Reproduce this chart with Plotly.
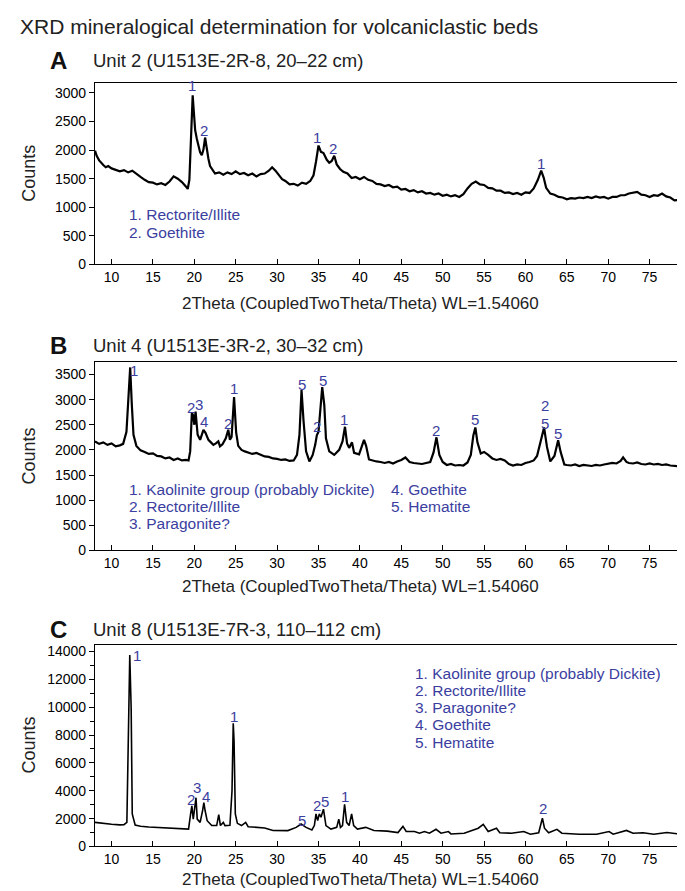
import plotly.graph_objects as go

W, H = 685, 891
FONT = "Liberation Sans, Arial, sans-serif"
BLUE = "#3b40a0"

# ---- data ----
a_x = [8.0, 8.2, 8.5, 8.8, 9.0, 9.3, 9.6, 10.0, 10.5, 11.0, 11.5, 12.0, 12.5, 13.0, 13.5, 14.0, 14.5, 15.0,
       15.5, 16.0, 16.5, 17.0, 17.5, 18.0, 18.5, 19.0, 19.2, 19.4, 19.6, 19.8, 19.95, 20.1, 20.3, 20.5, 20.7,
       20.9, 21.1, 21.3, 21.5, 21.7, 21.9, 22.2, 22.5, 23.0, 23.5, 24.0, 24.5, 25.0, 25.5, 26.0, 26.5, 27.0,
       27.5, 28.0, 28.5, 29.0, 29.4, 29.8, 30.2, 30.6, 31.0, 31.5, 32.0, 32.5, 33.0, 33.5, 34.0, 34.4, 34.7,
       35.0, 35.3, 35.6, 36.0, 36.3, 36.6, 36.9, 37.2, 37.6, 38.0, 38.5, 39.0, 39.5, 40.0, 40.5, 41.0, 41.5,
       42.0, 42.5, 43.0, 43.5, 44.0, 44.5, 45.0, 45.5, 46.0, 46.5, 47.0, 47.5, 48.0, 48.5, 49.0, 49.5, 50.0,
       50.5, 51.0, 51.5, 52.0, 52.5, 53.0, 53.5, 54.0, 54.5, 55.0, 55.5, 56.0, 56.5, 57.0, 57.5, 58.0, 58.5,
       59.0, 59.5, 60.0, 60.5, 61.0, 61.5, 61.9, 62.2, 62.5, 63.0, 63.5, 64.0, 64.5, 65.0, 65.5, 66.0, 66.5,
       67.0, 67.5, 68.0, 68.5, 69.0, 69.5, 70.0, 70.5, 71.0, 71.5, 72.0, 72.5, 73.0, 73.5, 74.0, 74.5, 75.0,
       75.5, 76.0, 76.5, 77.0, 77.5, 78.0, 78.5, 79.0, 79.5, 80.0]
a_y = [1990, 1900, 1820, 1760, 1740, 1700, 1720, 1680, 1660, 1630, 1650, 1610, 1640, 1580, 1530, 1480, 1440, 1430,
       1400, 1420, 1390, 1450, 1540, 1500, 1440, 1360, 1320, 1480, 2250, 2960, 2650, 2350, 2200, 2060, 1960,
       1910, 2010, 2220, 2010, 1850, 1720, 1660, 1590, 1610, 1570, 1610, 1580, 1630, 1580, 1600, 1560, 1590,
       1540, 1580, 1590, 1640, 1700, 1640, 1570, 1490, 1460, 1400, 1410, 1380, 1430, 1410, 1460, 1560, 1800,
       2080, 1970, 1950, 1830, 1780, 1810, 1900, 1750, 1670, 1620, 1590, 1510, 1530, 1490, 1530, 1480, 1460,
       1410, 1400, 1370, 1390, 1350, 1360, 1310, 1320, 1280, 1300, 1260, 1280, 1240, 1250, 1220, 1240, 1200,
       1220, 1190, 1210, 1180, 1230, 1330, 1410, 1450, 1400, 1390, 1340, 1330, 1290, 1290, 1250, 1260, 1230,
       1250, 1220, 1260, 1250, 1330, 1480, 1640, 1520, 1340, 1240, 1220, 1180, 1170, 1140, 1160, 1150, 1170,
       1160, 1180, 1160, 1190, 1170, 1180, 1150, 1180, 1180, 1210, 1210, 1240, 1250, 1270, 1220, 1210, 1180,
       1210, 1200, 1240, 1190, 1170, 1120, 1130, 1100, 1110, 1090]

b_x = [8.0, 8.5, 9.0, 9.5, 10.0, 10.5, 11.0, 11.4, 11.8, 12.05, 12.25, 12.45, 12.65, 13.0, 13.5, 14.0, 14.5,
       15.0, 15.5, 16.0, 16.5, 17.0, 17.5, 18.0, 18.5, 19.0, 19.3, 19.5, 19.7, 19.85, 20.0, 20.15, 20.4, 20.7,
       21.1, 21.35, 21.7, 22.0, 22.3, 22.6, 22.9, 23.1, 23.4, 23.8, 24.1, 24.3, 24.5, 24.8, 25.05, 25.3, 25.7,
       26.1, 26.5, 27.0, 27.5, 28.0, 28.5, 29.0, 29.5, 30.0, 30.5, 31.0, 31.5, 32.0, 32.4, 32.7, 32.95, 33.2,
       33.5, 33.9, 34.3, 34.6, 34.8, 35.0, 35.2, 35.45, 35.7, 35.9, 36.3, 36.9, 37.5, 37.9, 38.2, 38.45, 38.7,
       39.05, 39.3, 39.9, 40.5, 40.75, 41.1, 41.5, 42.0, 42.5, 43.0, 43.5, 44.0, 44.5, 45.0, 45.5, 46.0, 46.5,
       47.0, 47.5, 48.0, 48.5, 48.9, 49.25, 49.6, 50.0, 50.5, 51.0, 51.5, 52.0, 52.5, 53.0, 53.4, 53.7, 53.95,
       54.2, 54.6, 55.0, 55.5, 56.0, 56.5, 57.0, 57.5, 58.0, 58.5, 59.0, 59.5, 60.0, 60.5, 61.0, 61.4, 61.9,
       62.25, 62.6, 63.0, 63.5, 63.95, 64.25, 64.7, 65.0, 65.5, 66.0, 66.5, 67.0, 67.5, 68.0, 68.5, 69.0, 69.5,
       70.0, 70.5, 71.0, 71.5, 71.8, 72.2, 72.5, 73.0, 73.5, 74.0, 74.5, 75.0, 75.5, 76.0, 76.5, 77.0, 77.5,
       78.0, 78.5, 79.0, 79.5, 80.0]
b_y = [2170, 2120, 2150, 2100, 2130, 2070, 2090, 2120, 2360, 3090, 3640, 2890, 2300, 2080, 1990, 1960, 1920,
       1930, 1880, 1870, 1830, 1850, 1800, 1830, 1790, 1800, 1790, 1970, 2730, 2690, 2500, 2760, 2300, 2200,
       2400, 2340, 2200, 2150, 2100, 2130, 2170, 2070, 2110, 2230, 2400, 2200, 2260, 3050, 2350, 2080, 2000,
       1970, 1950, 1920, 1940, 1900, 1870, 1860, 1830, 1820, 1800, 1810, 1780, 1790, 1900, 2300, 3190, 2560,
       1970, 1770, 1900, 2100, 2290, 2360, 2760, 3250, 2890, 2230, 1970, 1900, 2000, 2170, 2460, 2130, 2040,
       2150, 1940, 1910, 2200, 2080, 1810, 1790, 1770, 1760, 1740, 1760, 1730, 1770, 1800, 1850, 1760, 1740,
       1730, 1720, 1740, 1760, 1950, 2250, 1900, 1760, 1700, 1720, 1690, 1700, 1690, 1750, 1900, 2280, 2445,
       2150, 1930, 1960, 1900, 1830, 1800, 1820, 1790, 1720, 1690, 1710, 1700, 1740, 1760, 1790, 1880, 2190,
       2445, 2060, 1770, 1880, 2190, 1960, 1710, 1700, 1690, 1710, 1680, 1700, 1690, 1680, 1700, 1690, 1710,
       1720, 1740, 1730, 1780, 1850, 1760, 1740, 1730, 1750, 1720, 1710, 1730, 1710, 1720, 1700, 1710, 1690,
       1680, 1670, 1660, 1650, 1650]

c_x = [8.0, 9.0, 10.0, 11.0, 11.5, 11.85, 12.05, 12.2, 12.37, 12.5, 12.85, 13.5, 14.5, 15.5, 16.5, 17.5,
       18.5, 19.3, 19.55, 19.7, 19.87, 20.07, 20.2, 20.35, 20.7, 21.0, 21.15, 21.3, 21.55, 22.1, 22.7, 22.95,
       23.15, 23.5, 23.7, 24.3, 24.55, 24.7, 24.8, 24.95, 25.2, 25.7, 26.2, 26.5, 27.5, 28.5, 29.5, 30.5,
       31.3, 32.3, 32.9, 33.5, 34.2, 34.5, 34.7, 34.9, 35.1, 35.3, 35.6, 35.9, 36.5, 37.2, 37.45, 37.65,
       37.9, 38.15, 38.4, 38.7, 39.0, 39.25, 39.7, 40.7, 41.7, 43.3, 44.6, 45.2, 45.6, 46.6, 47.2, 47.8,
       48.4, 49.2, 49.8, 50.7, 51.0, 52.6, 53.9, 54.3, 54.9, 55.5, 56.5, 56.9, 58.3, 59.8, 60.6, 61.6,
       61.9, 62.05, 62.3, 62.8, 63.8, 64.4, 66.5, 68.6, 70.1, 70.6, 72.2, 73.0, 74.2, 75.5, 77.1, 78.7, 80.0]
c_y = [1730, 1650, 1600, 1550, 1560, 1730, 7530, 13740, 9900, 2340, 1540, 1450, 1400, 1370, 1320, 1300,
       1280, 1250, 2340, 2910, 1960, 2790, 3500, 1960, 1730, 2580, 3150, 2580, 1850, 1500, 1500, 2290,
       1500, 1730, 1500, 1520, 3980, 8840, 7530, 2340, 1660, 1500, 1730, 1420, 1350, 1330, 1150, 1150,
       1140, 1370, 1610, 1370, 1190, 1500, 2340, 1850, 2340, 2100, 2680, 1500, 1250, 1370, 1960, 1370,
       1500, 3030, 1730, 1500, 2340, 1500, 1250, 1370, 1140, 1100, 1000, 1440, 1070, 1070, 950, 1070,
       950, 1230, 950, 1070, 900, 950, 1190, 1310, 1590, 1070, 1310, 980, 950, 1070, 880, 980,
       1680, 2030, 1310, 980, 1230, 950, 880, 880, 1070, 880, 1150, 950, 980, 880, 1000, 880, 880]

# peak labels: (2theta, counts, text)
a_lbl_x = [19.75, 21.16, 34.76, 36.73, 61.9]
a_lbl_y = [3130, 2345, 2220, 2030, 1770]
a_lbl_t = ["1", "2", "1", "2", "1"]

b_lbl_x = [12.77, 19.6, 20.6, 21.16, 24.08, 24.8, 33.03, 35.5, 34.76, 38.13, 49.24, 53.93, 62.36, 62.36, 63.97]
b_lbl_y = [3580, 2840, 2910, 2560, 2530, 3220, 3300, 3380, 2460, 2600, 2380, 2600, 2880, 2520, 2330]
b_lbl_t = ["1", "2", "3", "4", "2", "1", "5", "5", "2", "1", "2", "5", "2", "5", "5"]

c_lbl_x = [13.05, 24.77, 19.65, 20.3, 21.35, 33.0, 34.83, 35.75, 38.2, 62.06]
c_lbl_y = [13740, 9310, 3390, 4220, 3580, 1850, 2910, 3220, 3620, 2710]
c_lbl_t = ["1", "1", "2", "3", "4", "5", "2", "5", "1", "2"]

a_key = ["1. Rectorite/Illite", "2. Goethite"]
b_key1 = ["1. Kaolinite group (probably Dickite)", "2. Rectorite/Illite", "3. Paragonite?"]
b_key2 = ["4. Goethite", "5. Hematite"]
c_key = ["1. Kaolinite group (probably Dickite)", "2. Rectorite/Illite", "3. Paragonite?",
         "4. Goethite", "5. Hematite"]

x_ticks = list(range(10, 80, 5))


def px(x):
    return x / W


def py(y):
    return 1 - y / H


# panel boxes in pixels: (top, bottom), and where the x title sits below each
panels = [(75, 258), (357, 547), (642, 846)]
xtitle_gap = [40, 36, 33]
L, R = 87, 683

fig = go.Figure()
series = [(a_x, a_y), (b_x, b_y), (c_x, c_y)]
widths = [2.2, 2.2, 1.6]
for i, (xs, ys) in enumerate(series):
    sfx = "" if i == 0 else str(i + 1)
    fig.add_trace(go.Scatter(x=xs, y=ys, mode="lines", line=dict(color="black", width=widths[i]),
                             xaxis="x" + sfx, yaxis="y" + sfx, showlegend=False, hoverinfo="skip"))

yranges = [[0, 3170], [0, 3740], [0, 14500]]
ydticks = [500, 500, 2000]
for i, (top, bot) in enumerate(panels):
    sfx = "" if i == 0 else str(i + 1)
    fig.layout["xaxis" + sfx] = dict(
        domain=[px(L), px(R)], range=[8, 80], anchor="y" + sfx, tickvals=x_ticks,
        ticks="inside", ticklen=5, tickwidth=1, tickcolor="black",
        showline=True, linecolor="black", linewidth=1.2, mirror=True, showgrid=False, zeroline=False,
        tickfont=dict(family=FONT, size=14, color="black"))
    ya = dict(
        domain=[py(bot), py(top)], range=yranges[i], anchor="x" + sfx, dtick=ydticks[i], tick0=0,
        tickformat="d", ticks="outside", ticklen=5, tickwidth=1, tickcolor="black",
        showline=True, linecolor="black", linewidth=1.2, mirror=True, showgrid=False, zeroline=False,
        tickfont=dict(family=FONT, size=14, color="black"))
    if i == 2:
        ya["minor"] = dict(dtick=1000, ticks="outside", ticklen=4, tickcolor="black")
    fig.layout["yaxis" + sfx] = ya

ann = []
ann.append(dict(x=px(10), y=py(18), xref="paper", yref="paper", xanchor="left", yanchor="middle",
                text="XRD mineralogical determination for volcaniclastic beds", showarrow=False,
                font=dict(family=FONT, size=21, color="#222")))
heads = [("A", "Unit 2 (U1513E-2R-8, 20–22 cm)", 52),
         ("B", "Unit 4 (U1513E-3R-2, 30–32 cm)", 340),
         ("C", "Unit 8 (U1513E-7R-3, 110–112 cm)", 627)]
for letter, unit, yy in heads:
    ann.append(dict(x=px(40), y=py(yy), xref="paper", yref="paper", xanchor="left", yanchor="middle",
                    text="<b>" + letter + "</b>", showarrow=False, font=dict(family=FONT, size=24, color="#111")))
    ann.append(dict(x=px(83), y=py(yy), xref="paper", yref="paper", xanchor="left", yanchor="middle",
                    text=unit, showarrow=False, font=dict(family=FONT, size=18.5, color="#222")))

for i, (top, bot) in enumerate(panels):
    ann.append(dict(x=px(352), y=py(bot + xtitle_gap[i]), xref="paper", yref="paper", xanchor="center",
                    yanchor="middle", text="2Theta (CoupledTwoTheta/Theta) WL=1.54060", showarrow=False,
                    font=dict(family=FONT, size=17, color="#222")))
    ann.append(dict(x=px(21), y=py((top + bot) / 2), xref="paper", yref="paper", xanchor="center",
                    yanchor="middle", text="Counts", textangle=-90, showarrow=False,
                    font=dict(family=FONT, size=18, color="#222")))

labels = [(a_lbl_x, a_lbl_y, a_lbl_t), (b_lbl_x, b_lbl_y, b_lbl_t), (c_lbl_x, c_lbl_y, c_lbl_t)]
for i, (lx, ly, lt) in enumerate(labels):
    sfx = "" if i == 0 else str(i + 1)
    for x, y, t in zip(lx, ly, lt):
        ann.append(dict(x=x, y=y, xref="x" + sfx, yref="y" + sfx, text=t, showarrow=False,
                        xanchor="center", yanchor="middle", font=dict(family=FONT, size=15, color=BLUE)))


def key_block(lines, x0, y0, step=17.4):
    for k, t in enumerate(lines):
        ann.append(dict(x=px(x0), y=py(y0 + k * step), xref="paper", yref="paper", xanchor="left",
                        yanchor="middle", text=t, showarrow=False,
                        font=dict(family=FONT, size=15.5, color=BLUE)))


key_block(a_key, 119, 208)
key_block(b_key1, 119, 485)
key_block(b_key2, 381, 485)
key_block(c_key, 405, 671)

fig.update_layout(width=W, height=H, margin=dict(l=0, r=0, t=0, b=0), annotations=ann,
                  plot_bgcolor="white", paper_bgcolor="white", font=dict(family=FONT))
fig.write_html("out.html")
